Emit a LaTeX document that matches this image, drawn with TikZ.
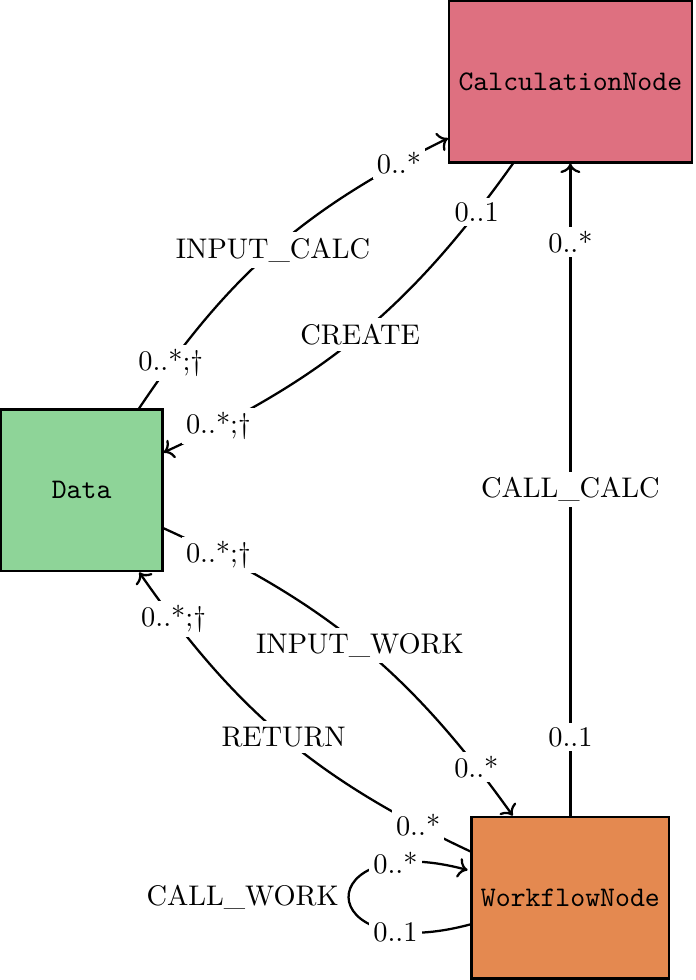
\documentclass[tikz,border=0pt]{standalone}
\usepackage{tikz}
\usetikzlibrary{arrows.meta, positioning}
\definecolor{calcred}{RGB}{222,112,128}
\definecolor{datagreen}{RGB}{142,212,152}
\definecolor{workorange}{RGB}{228,137,80}
\tikzset{
  entity/.style={rectangle, draw=black, thick, minimum size=2cm, font=\ttfamily},
  rel/.style={->, thick},
  mult/.style={fill=white, inner sep=1.5pt},
  relname/.style={fill=white, inner sep=2pt},
}

\begin{document}
\begin{tikzpicture}
\useasboundingbox (0,0) rectangle (8.604,-12.13);
% entities
\node[entity, fill=calcred] (calc) at (7.06,-1.01) {CalculationNode};
\node[entity, fill=datagreen] (data) at (1.01,-6.07) {Data};
\node[entity, fill=workorange] (wf) at (7.06,-11.11) {WorkflowNode};

% relations
\draw[rel] (data) to[bend left=15]
  node[mult, pos=0.12] {0..*;\dag}
  node[relname] {INPUT\_CALC}
  node[mult, pos=0.88] {0..*} (calc);
\draw[rel] (calc) to[bend left=15]
  node[mult, pos=0.12] {0..1}
  node[relname] {CREATE}
  node[mult, pos=0.88] {0..*;\dag} (data);
\draw[rel] (wf) --
  node[mult, pos=0.12] {0..1}
  node[relname] {CALL\_CALC}
  node[mult, pos=0.88] {0..*} (calc);
\draw[rel] (data) to[bend left=15]
  node[mult, pos=0.12] {0..*;\dag}
  node[relname] {INPUT\_WORK}
  node[mult, pos=0.88] {0..*} (wf);
\draw[rel] (wf) to[bend left=15]
  node[mult, pos=0.12] {0..*}
  node[relname] {RETURN}
  node[mult, pos=0.88] {0..*;\dag} (data);
\draw[rel] (wf) edge[loop left]
  node[mult, pos=0.11] {0..1}
  node[left] {CALL\_WORK}
  node[mult, pos=0.89] {0..*} ();
\end{tikzpicture}
\end{document}
